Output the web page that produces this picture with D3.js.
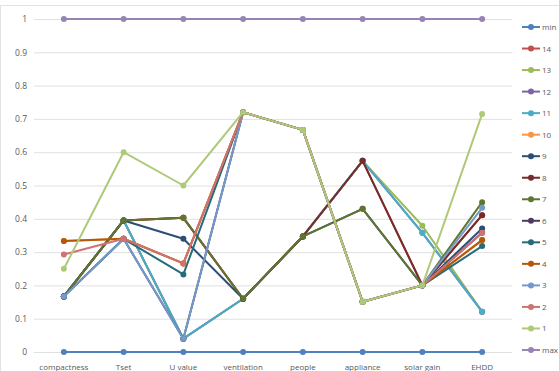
<!DOCTYPE html>
<html><head><meta charset="utf-8">
<script src="https://cdn.jsdelivr.net/npm/d3@7"></script>
<style>body{margin:0;background:#fff}svg{display:block}text{font-family:"Open Sans",sans-serif;fill:#595959}</style>
</head><body><svg id="c" width="559" height="371"></svg>
<script>
const categories = ["compactness","Tset","U value","ventilation","people","appliance","solar gain","EHDD"];
const seriesNames = ["min","14","13","12","11","10","9","8","7","6","5","4","3","2","1","max"];
const seriesColors = ["#4F81BD","#C0504D","#9BBB59","#8064A2","#4BACC6","#F79646","#2C4D75","#772C2A","#5F7530","#4D3B62","#276A7C","#B65708","#729ACA","#CD7371","#AFC97A","#9983B5"];
const sMin = [0,0,0,0,0,0,0,0];
const s14 = [0.167,0.395,0.403,0.16,0.347,0.574,0.2,0.411];
const s13 = [0.167,0.395,0.04,0.16,0.347,0.574,0.379,0.121];
const s12 = [0.167,0.395,0.04,0.16,0.347,0.574,0.358,0.121];
const s11 = [0.167,0.395,0.04,0.16,0.347,0.574,0.358,0.121];
const s10 = [0.333,0.34,0.266,0.72,0.667,0.151,0.2,0.336];
const s9 = [0.167,0.395,0.34,0.16,0.347,0.43,0.2,0.371];
const s8 = [0.167,0.395,0.403,0.16,0.347,0.574,0.2,0.411];
const s7 = [0.167,0.395,0.403,0.16,0.347,0.43,0.2,0.45];
const s6 = [0.167,0.34,0.04,0.72,0.667,0.151,0.2,0.358];
const s5 = [0.167,0.34,0.233,0.72,0.667,0.151,0.2,0.318];
const s4 = [0.333,0.34,0.266,0.72,0.667,0.151,0.2,0.336];
const s3 = [0.167,0.34,0.04,0.72,0.667,0.151,0.2,0.433];
const s2 = [0.293,0.34,0.266,0.72,0.667,0.151,0.2,0.358];
const s1 = [0.25,0.6,0.5,0.72,0.667,0.151,0.2,0.715];
const sMax = [1,1,1,1,1,1,1,1];
const seriesValues = [sMin,s14,s13,s12,s11,s10,s9,s8,s7,s6,s5,s4,s3,s2,s1,sMax];
const yTicks = [0,0.1,0.2,0.3,0.4,0.5,0.6,0.7,0.8,0.9,1];

const svg = d3.select("#c");
svg.append("rect").attr("x",0.5).attr("y",5.5).attr("width",600).attr("height",400)
  .attr("fill","none").attr("stroke","#e3e3e3");

const x = d3.scaleBand().domain(categories).range([34,512]);
const y = d3.scaleLinear().domain([0,1]).range([352,19]);
const cx = c => x(c) + x.bandwidth()/2;

const yAxis = d3.axisLeft(y).tickValues(yTicks).tickFormat(d3.format("~g")).tickSize(-(512-34)).tickPadding(7);
const ga = svg.append("g").attr("transform","translate(34,0)").call(yAxis);
ga.select(".domain").remove();
ga.selectAll(".tick line").attr("stroke","#e0e0e0").attr("stroke-width",1);
ga.selectAll(".tick text").attr("font-size",8.5).attr("fill","#595959").style("font-family","'Open Sans',sans-serif");

const xAxis = d3.axisBottom(x).tickSize(0).tickPadding(8);
const gx = svg.append("g").attr("transform","translate(0,356)").call(xAxis);
gx.select(".domain").remove();
gx.selectAll(".tick text").attr("font-size",8).attr("fill","#595959").style("font-family","'Open Sans',sans-serif");

const line = d3.line().x((d,i)=>cx(categories[i])).y(d=>y(d));
seriesValues.forEach((vals,k)=>{
  const g = svg.append("g");
  g.append("path").attr("d",line(vals)).attr("fill","none").attr("stroke",seriesColors[k]).attr("stroke-width",2).attr("stroke-linejoin","round");
  g.selectAll("circle").data(vals).join("circle")
    .attr("cx",(d,i)=>cx(categories[i])).attr("cy",d=>y(d)).attr("r",3).attr("fill",seriesColors[k]);
});

const ly = d3.scaleLinear().domain([0,seriesNames.length-1]).range([27,350]);
seriesNames.forEach((n,k)=>{
  const g = svg.append("g").attr("transform",`translate(0,${ly(k)})`);
  g.append("line").attr("x1",522).attr("x2",540).attr("stroke",seriesColors[k]).attr("stroke-width",2);
  g.append("circle").attr("cx",531).attr("r",3).attr("fill",seriesColors[k]);
  g.append("text").attr("x",542).attr("y",3).attr("font-size",8).text(n);
});
</script></body></html>
